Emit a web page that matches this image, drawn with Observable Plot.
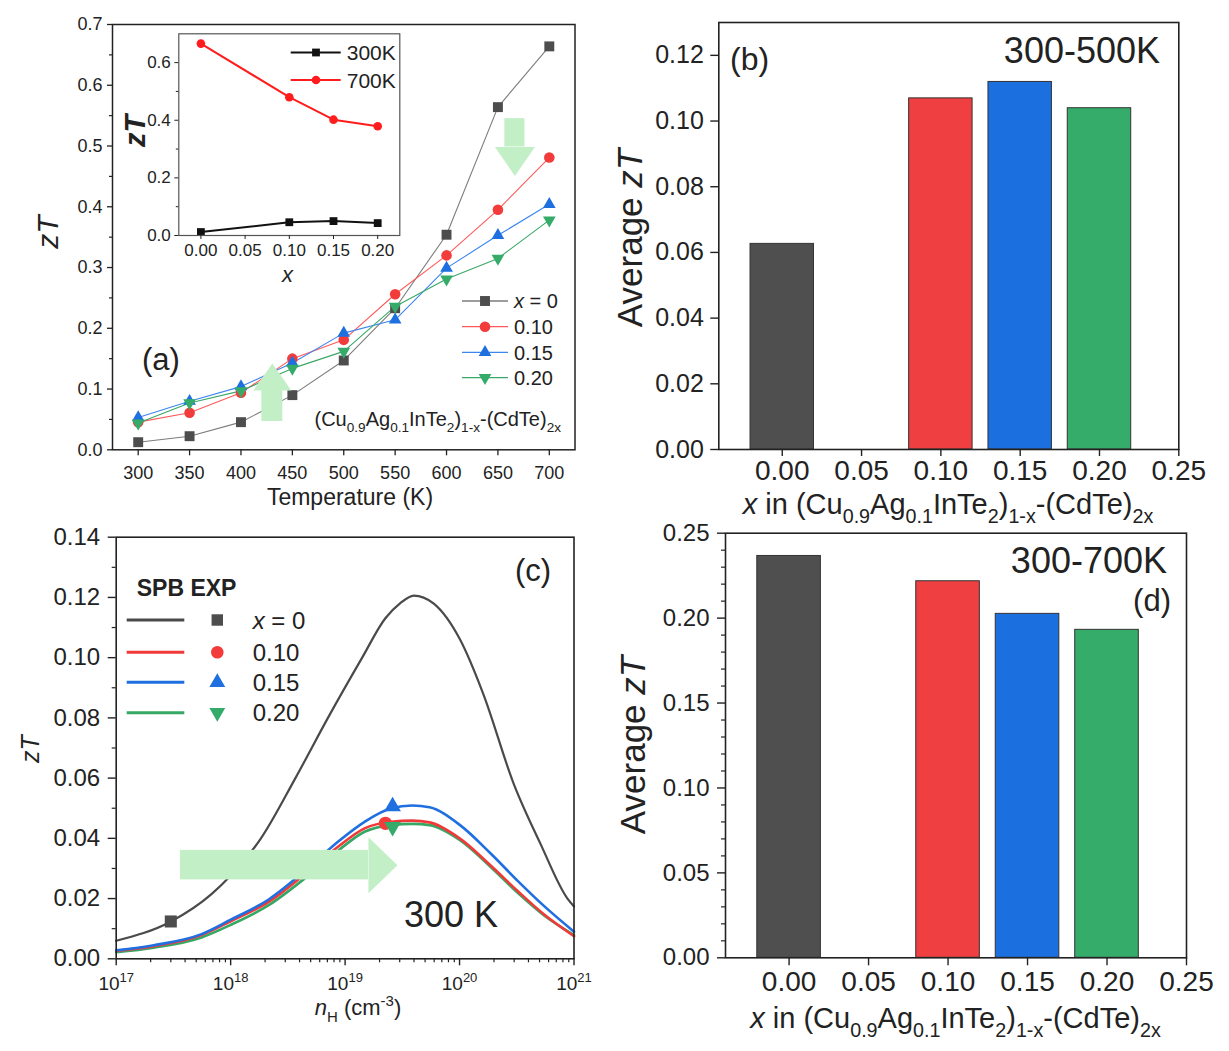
<!DOCTYPE html>
<html><head><meta charset="utf-8">
<script src="https://cdn.jsdelivr.net/npm/d3@7"></script>
<script src="https://cdn.jsdelivr.net/npm/@observablehq/plot@0.6"></script>
<style>
html,body{margin:0;padding:0;background:#fff;}
#fig{position:relative;width:1229px;height:1051px;overflow:hidden;background:#fff;}
#fig svg{position:absolute;left:0;top:0;}
</style></head><body><div id="fig"></div>
<script>
const W = 1229, H = 1051;
const FONT = "'Liberation Sans', Arial, Helvetica, sans-serif";
const INK = "#222";

// ---------- Panel (a): zT vs temperature ----------
const temperatures = [300, 350, 400, 450, 500, 550, 600, 650, 700];
const zT_x000 = [0.0125, 0.0224, 0.0455, 0.090, 0.147, 0.233, 0.354, 0.564, 0.664];
const zT_x010 = [0.0455, 0.061, 0.094, 0.150, 0.181, 0.256, 0.320, 0.395, 0.481];
const zT_x015 = [0.053, 0.080, 0.104, 0.143, 0.192, 0.214, 0.299, 0.353, 0.404];
const zT_x020 = [0.044, 0.077, 0.097, 0.134, 0.162, 0.236, 0.281, 0.315, 0.378];
const compositionLabels = ["x = 0", "0.10", "0.15", "0.20"];
const ticksA_y = [0, 0.1, 0.2, 0.3, 0.4, 0.5, 0.6, 0.7];
const minorA_y = [0.05, 0.15, 0.25, 0.35, 0.45, 0.55, 0.65];

// inset of (a)
const insetX = [0, 0.10, 0.15, 0.20];
const inset300K = [0.012, 0.046, 0.050, 0.043];
const inset700K = [0.666, 0.480, 0.402, 0.379];
const insetTicksX = [0, 0.05, 0.10, 0.15, 0.20];
const insetTicksY = [0, 0.2, 0.4, 0.6];
const insetMinorY = [0.1, 0.3, 0.5];

// annotation arrows of (a) (data space)
const arrowUpA = {x: 430.5, y0: 0.0466, y1: 0.0977};
const arrowDownA = {x: 666.5, y0: 0.545, y1: 0.4985};

// ---------- Panel (b)/(d): average zT ----------
const xComposition = [0.00, 0.10, 0.15, 0.20];
const avgZT_300_500 = [0.0626, 0.1069, 0.1119, 0.1039];
const avgZT_300_700 = [0.2366, 0.2217, 0.2025, 0.1931];
const ticksBar_x = [0, 0.05, 0.10, 0.15, 0.20, 0.25];
const ticksB_y = [0, 0.02, 0.04, 0.06, 0.08, 0.10, 0.12];
const ticksD_y = [0, 0.05, 0.10, 0.15, 0.20, 0.25];
const minorD_y = [0.01,0.02,0.03,0.04,0.06,0.07,0.08,0.09,0.11,0.12,0.13,0.14,0.16,0.17,0.18,0.19,0.21,0.22,0.23,0.24];

// ---------- Panel (c): SPB model zT vs nH at 300 K ----------
const nH_model_x0 = [1.0e17, 3.01e17, 6.76e17, 9.93e17, 1.84e18, 3.68e18, 7.08e18, 1.41e19, 2.24e19, 3.02e19, 3.98e19, 5.92e19, 1.01e20, 1.61e20, 2.98e20, 5.12e20, 8.77e20, 1.0e21];
const zT_model_x0 = [0.0060, 0.0124, 0.0214, 0.0275, 0.0400, 0.0600, 0.0800, 0.1000, 0.1130, 0.1180, 0.1206, 0.1180, 0.1060, 0.0880, 0.0580, 0.0380, 0.0200, 0.0174];
const nH_model = [1.0e17, 2.13e17, 5.57e17, 9.93e17, 2.15e18, 4.65e18, 8.61e18, 1.48e19, 2.53e19, 3.86e19, 5.47e19, 1.01e20, 1.88e20, 3.22e20, 5.52e20, 1.0e21];
const zT_model_x010 = [0.0026, 0.0042, 0.0079, 0.0124, 0.0189, 0.0287, 0.0371, 0.0433, 0.0455, 0.0459, 0.0453, 0.0399, 0.0309, 0.0225, 0.0146, 0.0075];
const zT_model_x015 = [0.0028, 0.0045, 0.0082, 0.0129, 0.0197, 0.0298, 0.0388, 0.0455, 0.0500, 0.0509, 0.0503, 0.0444, 0.0349, 0.0259, 0.0174, 0.0090];
const zT_model_x020 = [0.0022, 0.0037, 0.0071, 0.0112, 0.0178, 0.0273, 0.0358, 0.0422, 0.0444, 0.0448, 0.0444, 0.0394, 0.0304, 0.0219, 0.0143, 0.0079];
const nH_exp = [3.0e17, 2.25e19, 2.6e19, 2.6e19];
const zT_exp = [0.0124, 0.0450, 0.0506, 0.0438];
const ticksC_x = [1e17, 1e18, 1e19, 1e20, 1e21];
const ticksC_y = [0, 0.02, 0.04, 0.06, 0.08, 0.10, 0.12, 0.14];
const minorC_y = [0.01, 0.03, 0.05, 0.07, 0.09, 0.11, 0.13];
const arrowC = {x0: 3.65e17, x1: 1.6e19, yLow: 0.0262, yHigh: 0.0360, yMid: 0.0311};

// ---------- styles ----------
const triangleDown = {draw(ctx, size) {
  const y = Math.sqrt(size / (Math.sqrt(3) * 3));
  ctx.moveTo(0, 2 * y); ctx.lineTo(-Math.sqrt(3) * y, -y); ctx.lineTo(Math.sqrt(3) * y, -y); ctx.closePath();
}};
const symbolTypes = {square: d3.symbolSquare, circle: d3.symbolCircle, triangle: d3.symbolTriangle};
const seriesStyle = [
  {line: "#7c7c7c", mark: "#4d4d4d", curve: "#4a4a4a", symbol: "square"},
  {line: "#ff5a5a", mark: "#f23c3c", curve: "#f03a3a", symbol: "circle"},
  {line: "#3d86ee", mark: "#1e6fdf", curve: "#1f6fe0", symbol: "triangle"},
  {line: "#3aa867", mark: "#34ab69", curve: "#35a865", symbol: triangleDown}
];
const barColors = ["#4f4f4f", "#ef3f40", "#1b6fde", "#36ac6b"];
const arrowFill = "#c3efc7";

const fig = document.getElementById("fig");
const baseStyle = {background: "none", overflow: "visible", fontFamily: FONT, color: INK};
function make(opts) { const s = Plot.plot({width: W, height: H, style: baseStyle, ...opts}); fig.appendChild(s); return s; }

function richText(svg, {x, y, size, anchor = "start", rotate = 0, weight = "normal", fill = INK}, parts) {
  const t = d3.select(svg).append("text")
    .attr("transform", `translate(${x},${y})` + (rotate ? ` rotate(${rotate})` : ""))
    .attr("font-size", size).attr("font-family", FONT).attr("text-anchor", anchor)
    .attr("font-weight", weight).attr("fill", fill).attr("style", "white-space:pre");
  let shift = 0;
  for (const p of parts) {
    const o = typeof p === "string" ? {t: p} : p;
    const target = o.sub ? size * 0.3 : o.sup ? -size * 0.42 : 0;
    const ts = t.append("tspan").text(o.t);
    if (target !== shift) { ts.attr("dy", target - shift); shift = target; }
    if (o.sub || o.sup) ts.attr("font-size", size * 0.68);
    if (o.i) ts.attr("font-style", "italic");
  }
  return t;
}
function legendSymbol(svg, sym, r, x, y, fill) {
  const type = typeof sym === "string" ? symbolTypes[sym] : sym;
  d3.select(svg).append("path").attr("d", d3.symbol(type, Math.PI * r * r)())
    .attr("transform", `translate(${x},${y})`).attr("fill", fill);
}
function legendLine(svg, x1, x2, y, stroke, width) {
  d3.select(svg).append("line").attr("x1", x1).attr("x2", x2).attr("y1", y).attr("y2", y)
    .attr("stroke", stroke).attr("stroke-width", width);
}

// ================= Panel (a) =================
const seriesA = [zT_x000, zT_x010, zT_x015, zT_x020];
const rowsA = seriesA.flatMap((vals, k) => temperatures.map((T, i) => ({T, zT: vals[i], k})));
const dotR_A = [5.6, 5.3, 4.7, 4.7];
const svgA = make({
  marginLeft: 112, marginRight: W - 574.5, marginTop: 24, marginBottom: H - 449.3,
  x: {domain: [275, 725]}, y: {domain: [0, 0.7]},
  marks: [
    ...seriesA.map((_, k) => Plot.line(rowsA.filter(d => d.k === k), {x: "T", y: "zT", stroke: seriesStyle[k].line, strokeWidth: 1.1})),
    ...seriesA.map((_, k) => Plot.dot(rowsA.filter(d => d.k === k), {x: "T", y: "zT", symbol: seriesStyle[k].symbol, r: dotR_A[k], fill: seriesStyle[k].mark, stroke: "none"})),
    Plot.rect([arrowUpA], {x1: d => d.x - 10.2, x2: d => d.x + 10.2, y1: "y0", y2: "y1", fill: arrowFill}),
    Plot.vector([arrowUpA], {x: "x", y: "y1", length: 27, r: 19, rotate: 0, shape: "spike", anchor: "start", fill: arrowFill, stroke: "none"}),
    Plot.rect([arrowDownA], {x1: d => d.x - 9.8, x2: d => d.x + 9.8, y1: "y1", y2: "y0", fill: arrowFill}),
    Plot.vector([arrowDownA], {x: "x", y: "y1", length: 29, r: 20, rotate: 180, shape: "spike", anchor: "start", fill: arrowFill, stroke: "none"}),
    Plot.frame({stroke: INK, strokeWidth: 1.5}),
    Plot.axisY({ticks: ticksA_y, tickFormat: d3.format(".1f"), tickSize: 5, tickPadding: 5, fontSize: 18, label: null, strokeWidth: 1.3}),
    Plot.axisY({ticks: minorA_y, tickFormat: () => "", tickSize: 3, label: null, strokeWidth: 1.2}),
    Plot.axisX({ticks: temperatures, tickSize: 6, tickPadding: 10, fontSize: 18, label: null, strokeWidth: 1.3})
  ]
});
richText(svgA, {x: 58, y: 232, size: 30, anchor: "middle", rotate: -90}, [{t: "zT", i: true}]);
richText(svgA, {x: 350, y: 505, size: 23, anchor: "middle"}, ["Temperature (K)"]);
richText(svgA, {x: 142, y: 370, size: 31}, ["(a)"]);
richText(svgA, {x: 561, y: 426, size: 20, anchor: "end"},
  ["(Cu", {t: "0.9", sub: true}, "Ag", {t: "0.1", sub: true}, "InTe", {t: "2", sub: true}, ")", {t: "1-x", sub: true}, "-(CdTe)", {t: "2x", sub: true}]);
const legRowsA = [301, 326.7, 352.3, 377.7];
compositionLabels.forEach((lab, k) => {
  const y = legRowsA[k];
  legendLine(svgA, 462, 508, y, seriesStyle[k].line, 1.3);
  legendSymbol(svgA, seriesStyle[k].symbol, dotR_A[k], 485, y, seriesStyle[k].mark);
  const parts = k === 0 ? [{t: "x", i: true}, " = 0"] : [lab];
  richText(svgA, {x: 514, y: y + 7.2, size: 20}, parts);
});

// ---- inset
const rowsInset = insetX.flatMap((x, i) => [{x, zT: inset300K[i], s: "300K"}, {x, zT: inset700K[i], s: "700K"}]);
const svgIn = make({
  marginLeft: 178.3, marginRight: W - 399.3, marginTop: 33.3, marginBottom: H - 235,
  x: {domain: [-0.025, 0.225]}, y: {domain: [0, 0.7]},
  marks: [
    Plot.line(rowsInset.filter(d => d.s === "300K"), {x: "x", y: "zT", stroke: "#111", strokeWidth: 2}),
    Plot.line(rowsInset.filter(d => d.s === "700K"), {x: "x", y: "zT", stroke: "#ff1c1c", strokeWidth: 2}),
    Plot.dot(rowsInset.filter(d => d.s === "300K"), {x: "x", y: "zT", symbol: "square", r: 4.4, fill: "#111"}),
    Plot.dot(rowsInset.filter(d => d.s === "700K"), {x: "x", y: "zT", symbol: "circle", r: 4.3, fill: "#ff1c1c"}),
    Plot.frame({stroke: "#555", strokeWidth: 1.2}),
    Plot.axisY({ticks: insetTicksY, tickFormat: d3.format(".1f"), tickSize: 4, tickPadding: 4, fontSize: 17, label: null}),
    Plot.axisY({ticks: insetMinorY, tickFormat: () => "", tickSize: 2.5, label: null}),
    Plot.axisX({ticks: insetTicksX, tickFormat: d3.format(".2f"), tickSize: 4, tickPadding: 4, fontSize: 17, label: null})
  ]
});
richText(svgIn, {x: 145, y: 131, size: 29, anchor: "middle", rotate: -90, weight: "bold"}, [{t: "zT", i: true}]);
richText(svgIn, {x: 287.5, y: 282, size: 22, anchor: "middle"}, [{t: "x", i: true}]);
legendLine(svgIn, 290.7, 340.7, 52.5, "#111", 2);
legendSymbol(svgIn, "square", 4.4, 316, 52.5, "#111");
richText(svgIn, {x: 346.7, y: 60, size: 21}, ["300K"]);
legendLine(svgIn, 290.7, 340.7, 80, "#ff1c1c", 2);
legendSymbol(svgIn, "circle", 4.3, 316, 80, "#ff1c1c");
richText(svgIn, {x: 346.7, y: 87.5, size: 21}, ["700K"]);

// ================= Panel (b) =================
const rowsB = xComposition.map((x, i) => ({x, v: avgZT_300_500[i], c: barColors[i]}));
const svgB = make({
  marginLeft: 718.3, marginRight: W - 1178.3, marginTop: 22, marginBottom: H - 449,
  x: {domain: [-0.04, 0.25]}, y: {domain: [0, 0.13]}, color: {type: "identity"},
  marks: [
    Plot.rect(rowsB, {x1: d => d.x - 0.02, x2: d => d.x + 0.02, y1: 0, y2: "v", fill: "c", stroke: "#333", strokeWidth: 1}),
    Plot.frame({stroke: INK, strokeWidth: 1.6}),
    Plot.axisY({ticks: ticksB_y, tickFormat: d3.format(".2f"), tickSize: 8, tickPadding: 7, fontSize: 25, label: null, strokeWidth: 1.4}),
    Plot.axisX({ticks: ticksBar_x, tickFormat: d3.format(".2f"), tickSize: 7, tickPadding: 4, fontSize: 28, label: null, strokeWidth: 1.4})
  ]
});
richText(svgB, {x: 642, y: 238, size: 35, anchor: "middle", rotate: -90}, ["Average ", {t: "zT", i: true}]);
const xLabelParts = [{t: "x", i: true}, " in (Cu", {t: "0.9", sub: true}, "Ag", {t: "0.1", sub: true}, "InTe", {t: "2", sub: true}, ")", {t: "1-x", sub: true}, "-(CdTe)", {t: "2x", sub: true}];
richText(svgB, {x: 948, y: 514, size: 29, anchor: "middle"}, xLabelParts);
richText(svgB, {x: 730, y: 70, size: 32}, ["(b)"]);
richText(svgB, {x: 1160, y: 63, size: 36, anchor: "end"}, ["300-500K"]);

// ================= Panel (d) =================
const rowsD = xComposition.map((x, i) => ({x, v: avgZT_300_700[i], c: barColors[i]}));
const svgD = make({
  marginLeft: 725, marginRight: W - 1186, marginTop: 532.7, marginBottom: H - 957.3,
  x: {domain: [-0.04, 0.25]}, y: {domain: [0, 0.25]}, color: {type: "identity"},
  marks: [
    Plot.rect(rowsD, {x1: d => d.x - 0.02, x2: d => d.x + 0.02, y1: 0, y2: "v", fill: "c", stroke: "#333", strokeWidth: 1}),
    Plot.frame({stroke: INK, strokeWidth: 1.6}),
    Plot.axisY({ticks: ticksD_y, tickFormat: d3.format(".2f"), tickSize: 8, tickPadding: 8, fontSize: 24, label: null, strokeWidth: 1.4}),
    Plot.axisY({ticks: minorD_y, tickFormat: () => "", tickSize: 4, label: null, strokeWidth: 1.2}),
    Plot.axisX({ticks: ticksBar_x, tickFormat: d3.format(".2f"), tickSize: 8, tickPadding: 5, fontSize: 28, label: null, strokeWidth: 1.4})
  ]
});
richText(svgD, {x: 645, y: 745, size: 35, anchor: "middle", rotate: -90}, ["Average ", {t: "zT", i: true}]);
richText(svgD, {x: 955.5, y: 1028, size: 29, anchor: "middle"}, xLabelParts);
richText(svgD, {x: 1167, y: 573, size: 36, anchor: "end"}, ["300-700K"]);
richText(svgD, {x: 1171, y: 611, size: 31, anchor: "end"}, ["(d)"]);

// ================= Panel (c) =================
const modelSeries = [
  nH_model_x0.map((n, i) => ({n, zT: zT_model_x0[i]})),
  nH_model.map((n, i) => ({n, zT: zT_model_x010[i]})),
  nH_model.map((n, i) => ({n, zT: zT_model_x015[i]})),
  nH_model.map((n, i) => ({n, zT: zT_model_x020[i]}))
];
const expRows = nH_exp.map((n, k) => ({n, zT: zT_exp[k], k}));
const minorC_x = [17, 18, 19, 20].flatMap(e => [2, 3, 4, 5, 6, 7, 8, 9].map(m => m * Math.pow(10, e)));
const dotR_C = [6.8, 6.6, 6.2, 6.2];
const drawOrder = [0, 3, 1, 2];
const svgC = make({
  marginLeft: 115.7, marginRight: W - 573.5, marginTop: 536.7, marginBottom: H - 958.3,
  x: {type: "log", domain: [1e17, 1e21]}, y: {domain: [0, 0.14]},
  marks: [
    ...drawOrder.map(k => Plot.line(modelSeries[k], {x: "n", y: "zT", stroke: seriesStyle[k].curve, strokeWidth: k === 0 ? 2.2 : 2.6, curve: "monotone-x"})),
    Plot.rect([arrowC], {x1: "x0", x2: "x1", y1: "yLow", y2: "yHigh", fill: arrowFill}),
    Plot.vector([arrowC], {x: "x1", y: "yMid", length: 29, r: 28, rotate: 90, shape: "spike", anchor: "start", fill: arrowFill, stroke: "none"}),
    ...expRows.map(d => Plot.dot([d], {x: "n", y: "zT", symbol: seriesStyle[d.k].symbol, r: dotR_C[d.k], fill: seriesStyle[d.k].mark, stroke: "none"})),
    Plot.frame({stroke: INK, strokeWidth: 1.6}),
    Plot.axisY({ticks: ticksC_y, tickFormat: d3.format(".2f"), tickSize: 8, tickPadding: 8, fontSize: 24, label: null, strokeWidth: 1.4}),
    Plot.axisY({ticks: minorC_y, tickFormat: () => "", tickSize: 4, label: null, strokeWidth: 1.2}),
    Plot.axisX({ticks: ticksC_x, tickFormat: d => "10^" + Math.round(Math.log10(d)), tickSize: 7, tickPadding: 11, fontSize: 19, label: null, strokeWidth: 1.4}),
    Plot.axisX({ticks: minorC_x, tickFormat: () => "", tickSize: 4, label: null, strokeWidth: 1.2})
  ]
});
// superscript exponents on the log axis
svgC.querySelectorAll("text").forEach(t => {
  const m = /^10\^(-?\d+)$/.exec(t.textContent);
  if (!m) return;
  t.textContent = "";
  const s = d3.select(t);
  s.append("tspan").text("10");
  s.append("tspan").text(m[1]).attr("font-size", 13).attr("dy", -8);
});
richText(svgC, {x: 39, y: 749, size: 25, anchor: "middle", rotate: -90}, [{t: "zT", i: true}]);
richText(svgC, {x: 358, y: 1015, size: 22, anchor: "middle"}, [{t: "n", i: true}, {t: "H", sub: true}, " (cm", {t: "-3", sup: true}, ")"]);
richText(svgC, {x: 533, y: 581, size: 31, anchor: "middle"}, ["(c)"]);
richText(svgC, {x: 404, y: 927, size: 36}, ["300 K"]);
richText(svgC, {x: 136.7, y: 596, size: 23, weight: "bold"}, ["SPB EXP"]);
const legRowsC = [620, 652.3, 682.3, 712.7];
compositionLabels.forEach((lab, k) => {
  const y = legRowsC[k];
  legendLine(svgC, 126.7, 184.3, y, seriesStyle[k].curve, 3);
  legendSymbol(svgC, seriesStyle[k].symbol, dotR_C[k] * 0.95, 217.3, y, seriesStyle[k].mark);
  const parts = k === 0 ? [{t: "x", i: true}, " = 0"] : [lab];
  richText(svgC, {x: 252.7, y: y + 8.6, size: 24}, parts);
});
</script></body></html>
